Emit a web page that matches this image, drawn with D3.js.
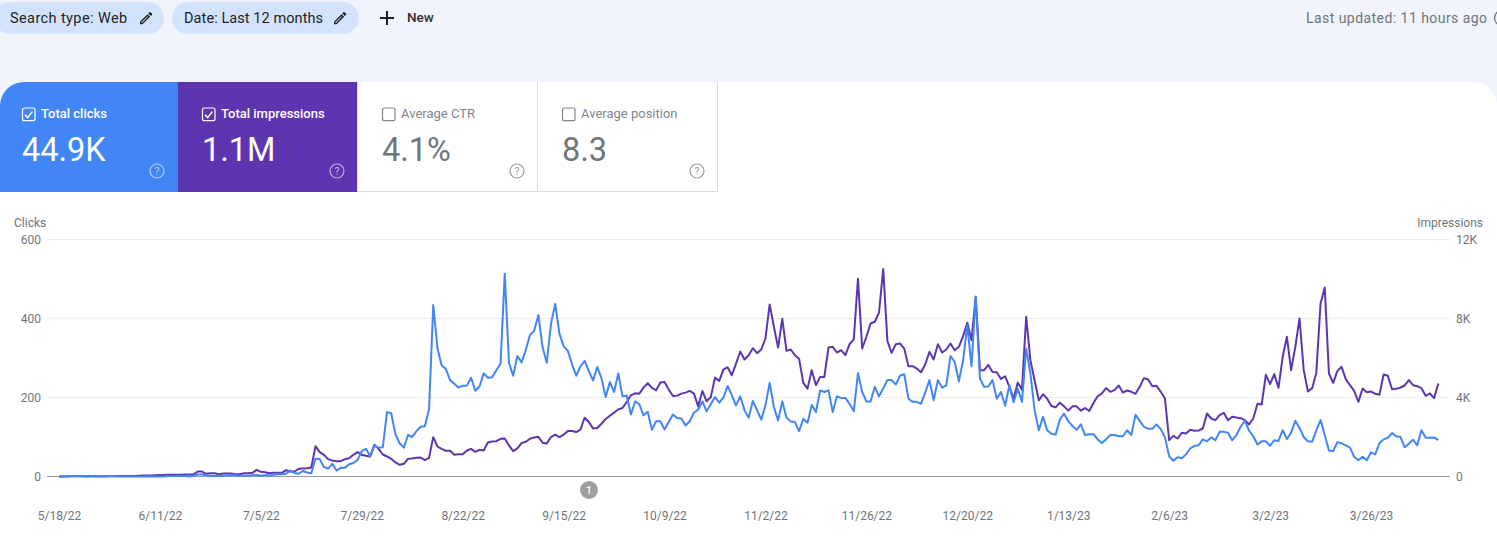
<!DOCTYPE html>
<html><head><meta charset="utf-8">
<script src="https://cdn.jsdelivr.net/npm/d3@7"></script>
<style>html,body{margin:0;padding:0;background:#fff;overflow:hidden}svg{display:block}text{font-family:Roboto,sans-serif}</style>
</head><body><svg id="c" width="1497" height="542"></svg>
<script>
const startDate = "2022-05-18";
const tickDates = ["2022-05-18","2022-06-11","2022-07-05","2022-07-29","2022-08-22","2022-09-15","2022-10-09","2022-11-02","2022-11-26","2022-12-20","2023-01-13","2023-02-06","2023-03-02","2023-03-26"];
const tickLabels = ["5/18/22","6/11/22","7/5/22","7/29/22","8/22/22","9/15/22","10/9/22","11/2/22","11/26/22","12/20/22","1/13/23","2/6/23","3/2/23","3/26/23"];
const clickTicks = [0,200,400,600];
const impressionTicks = [0,4000,8000,12000];
const clicks = [0,0,0,1,1,1,0,0,1,0,0,0,1,1,0,0,0,0,0,0,0,0,0,0,0,0,1,1,1,1,1,0,1,
5,5,3,2,1,2,1,3,3,3,2,2,2,3,4,2,3,3,4,6,6,7,15,9,7,14,10,8,
45,44,24,20,32,15,22,22,31,34,42,64,70,51,78,73,74,163,160,107,
84,73,105,100,115,126,127,170,434,324,281,272,244,235,225,230,230,250,217,228,261,250,251,269,286,
513,288,255,305,289,320,358,369,409,327,288,387,437,362,330,318,284,255,279,293,267,243,277,249,201,
239,214,261,203,205,157,190,183,155,164,118,140,140,119,138,157,148,147,129,140,162,169,190,165,183,201,187,200,229,206,
180,203,168,149,191,168,144,180,237,176,142,190,149,139,138,
115,146,136,181,163,218,214,218,163,203,199,199,184,165,262,214,190,190,227,203,223,244,244,233,255,259,197,189,189,184,213,244,193,244,225,231,305,290,241,294,383,279,455,248,227,228,244,197,214,179,231,188,222,189,324,261,168,117,151,117,108,106,144,159,140,128,118,132,105,107,107,
94,85,94,105,105,102,102,117,105,156,141,126,121,121,132,120,99,51,40,49,46,56,71,77,79,94,89,99,92,113,113,111,92,105,126,141,116,102,81,89,89,78,92,90,117,95,111,141,123,100,89,88,117,143,105,66,64,87,84,79,73,50,41,50,41,61,56,84,94,98,110,102,100,74,83,93,79,117,98,98,99,92];
const impressions = [0,5,10,20,15,10,10,15,10,15,10,10,15,15,20,25,20,20,30,40,50,50,50,60,70,70,90,90,90,90,100,100,110,
253,253,135,169,169,118,152,152,152,118,118,169,169,186,338,236,219,169,186,186,186,320,253,253,388,405,422,456,
1536,1232,1097,878,810,776,776,878,928,1097,1232,1097,1047,1013,1604,1401,1114,1013,895,709,591,641,895,912,945,962,827,945,1992,1519,1401,1300,1300,1097,1131,1131,1317,1401,1249,1350,1317,1722,1772,1789,1907,
1929,1574,1286,1421,1692,1760,1912,1980,2013,1709,1675,1997,2115,1997,2115,2301,2301,2250,2369,2978,2758,2436,2453,2673,2910,3079,3232,3401,3469,3773,4112,4213,4196,4501,4721,4484,4365,4755,4788,4399,4078,4095,4196,4247,4332,4196,3553,4332,3807,4027,5008,4839,5414,5533,5127,5719,6328,5922,6142,6497,6243,6430,6988,8714,7580,6531,7986,6362,6430,6142,5956,
4738,4450,5381,4619,5042,5042,6531,6565,6277,6396,6142,6700,6937,10017,6480,7073,7749,7834,8291,10507,6853,6260,6700,6734,6480,5584,5584,5465,5279,5685,6311,5922,6700,6277,6430,6734,6396,6565,7106,7783,6903,9103,5381,5381,5651,5296,5279,4941,5076,4535,3942,4755,4399,8088,5888,4873,3858,4162,3942,3570,3502,3739,3553,3333,3553,3553,3333,3469,3316,3722,4061,
4203,4473,4288,4372,4608,4254,4355,4288,4186,4541,4980,4912,4574,4591,4288,3950,1840,2059,1924,2211,2178,2363,2313,2329,2431,3190,2937,2853,3106,3224,2853,3022,2988,2954,2853,2633,2937,3680,3646,5148,4676,5182,4490,6060,7073,5385,6566,8001,5385,4304,4473,5250,8761,9571,5216,4743,5334,5554,4929,4625,4338,3781,4456,4271,4304,4186,4136,5165,5098,4423,4439,4507,4608,4878,4625,4574,4473,4085,4203,3967,4710];
const cardLabels = ["Total clicks","Total impressions","Average CTR","Average position"];
const cardValues = ["44.9K","1.1M","4.1%","8.3"];
const chipLabels = ["Search type: Web","Date: Last 12 months"];

const svg = d3.select("#c");
const BLUE="#4285f4", PURPLE="#5e35b1", GREY="#80868b";
const pencil="M14.06 9.02l.92.92L5.92 19H5v-.92l9.06-9.06M17.66 3c-.25 0-.51.1-.7.29l-1.83 1.83 3.75 3.75 1.83-1.83c.39-.39.39-1.02 0-1.41l-2.34-2.34c-.2-.2-.45-.29-.71-.29zm-3.6 3.19L3 17.25V21h3.75L17.81 9.94l-3.75-3.75z";

// page
svg.append("rect").attr("width",1497).attr("height",542).attr("fill","#f1f4fd");
svg.append("path").attr("d","M0 542V106A24 24 0 0 1 24 82H1473A24 24 0 0 1 1497 106V542Z").attr("fill","#fff");

// chips
const chipBoxes=[[-6,170],[172,187]], chipPen=[146,340], chipSpacing=[0.4,0.08];
chipLabels.forEach((t,i)=>{
  svg.append("rect").attr("x",chipBoxes[i][0]).attr("y",2).attr("width",chipBoxes[i][1]).attr("height",32).attr("rx",16).attr("fill","#d3e3fd");
  svg.append("text").attr("x",i?184:10).attr("y",23.3).attr("font-size",14.5).attr("letter-spacing",chipSpacing[i]).attr("fill","#1f1f1f").text(t);
  svg.append("path").attr("d",pencil).attr("fill","#1f1f1f").attr("transform",`translate(${chipPen[i]-8},${18-8}) scale(.68)`);
});
svg.append("path").attr("d","M387 11V25M380 18H394").attr("stroke","#1f1f1f").attr("stroke-width",2).attr("fill","none");
svg.append("text").attr("x",407).attr("y",21.5).attr("font-size",13.5).attr("font-weight",500).attr("fill","#3c2a2a").text("New");
svg.append("text").attr("x",1306).attr("y",23).attr("font-size",14).attr("letter-spacing",0.45).attr("fill","#70757a").text("Last updated: 11 hours ago");
svg.append("circle").attr("cx",1502).attr("cy",18).attr("r",7.5).attr("fill","none").attr("stroke","#70757a").attr("stroke-width",1.3);

// cards
const cardX=[0,178,358,538], contentX=[22,24,24,24], helpX=[157,159,159,159];
cardLabels.forEach((t,i)=>{
  const on=i<2, x=cardX[i], cx=x+contentX[i];
  if(i==0) svg.append("path").attr("d","M0 192V106A24 24 0 0 1 24 82H178V192Z").attr("fill",BLUE);
  else if(i==1) svg.append("rect").attr("x",x).attr("y",82).attr("width",180).attr("height",110).attr("fill",PURPLE);
  else svg.append("path").attr("d",`M${x-.5} 82V191.5H${x+179.5}V82`).attr("fill","none").attr("stroke","#dadce0");
  svg.append("rect").attr("x",cx+.5).attr("y",108).attr("width",12.5).attr("height",12.7).attr("rx",2).attr("fill","none").attr("stroke",on?"#fff":GREY).attr("stroke-width",1.2);
  if(on) svg.append("path").attr("d",`M${cx+3} 114.8l2.6 2.8l4.8-6`).attr("fill","none").attr("stroke","#fff").attr("stroke-width",1.5);
  svg.append("text").attr("x",cx+19).attr("y",118).attr("font-size",13).attr("font-weight",on?500:400).attr("fill",on?"#fff":GREY).text(t);
  svg.append("text").attr("x",cx).attr("y",160.7).attr("font-size",32.5).attr("fill",on?"#fff":"#70757a").text(cardValues[i]);
  const hc=on?"rgba(255,255,255,.6)":"#a09a94";
  svg.append("circle").attr("cx",x+helpX[i]).attr("cy",171).attr("r",7).attr("fill","none").attr("stroke",hc).attr("stroke-width",1.2);
  svg.append("text").attr("x",x+helpX[i]).attr("y",175).attr("text-anchor","middle").attr("font-size",10.5).attr("fill",hc).text("?");
});

// chart
const parse=d3.utcParse("%Y-%m-%d");
const x0=parse(startDate);
const dates=clicks.map((_,i)=>d3.utcDay.offset(x0,i));
const x=d3.scaleUtc().domain([parse(tickDates[0]),parse(tickDates[13])]).range([59,1371]);
const yL=d3.scaleLinear().domain([0,600]).range([476.5,239.5]);
const yR=d3.scaleLinear().domain([0,12000]).range([476.5,239.5]);

svg.append("text").attr("x",14).attr("y",227).attr("font-size",12).attr("fill","#70757a").text("Clicks");
svg.append("text").attr("x",1483).attr("y",227).attr("text-anchor","end").attr("font-size",12).attr("fill","#70757a").text("Impressions");

const style=(g,c)=>{g.select(".domain").remove();g.selectAll("text").attr("fill",c||"#70757a").attr("font-size",12).attr("font-family","Roboto,sans-serif");};
svg.append("g").attr("transform","translate(47,0)").call(d3.axisLeft(yL).tickValues(clickTicks).tickSize(0).tickPadding(6)).call(style);
svg.append("g").attr("transform","translate(1450,0)").call(d3.axisRight(yR).tickValues(impressionTicks).tickSize(0).tickPadding(6).tickFormat(d=>d?d/1000+"K":"0")).call(style);
svg.append("g").selectAll("line").data(clickTicks).join("line")
  .attr("x1",47).attr("x2",1450).attr("y1",d=>yL(d)).attr("y2",d=>yL(d))
  .attr("stroke",d=>d?"#ebebeb":"#9a9a9a").attr("stroke-width",1);
svg.append("g").attr("transform","translate(0,503)")
  .call(d3.axisBottom(x).tickValues(tickDates.map(parse)).tickSize(0).tickPadding(8).tickFormat((d,i)=>tickLabels[i])).call(style);

const lineImp=d3.line().x((d,i)=>x(dates[i])).y(d=>yR(d));
const lineClk=d3.line().x((d,i)=>x(dates[i])).y(d=>yL(d));
svg.append("path").datum(impressions).attr("d",lineImp).attr("fill","none").attr("stroke",PURPLE).attr("stroke-width",2).attr("stroke-linejoin","round");
svg.append("path").datum(clicks).attr("d",lineClk).attr("fill","none").attr("stroke",BLUE).attr("stroke-width",2).attr("stroke-linejoin","round");

// annotation
svg.append("circle").attr("cx",589).attr("cy",490).attr("r",9).attr("fill","#9e9e9e");
svg.append("text").attr("x",589).attr("y",494).attr("text-anchor","middle").attr("font-size",11).attr("font-weight",500).attr("fill","#fff").text("1");
</script></body></html>
